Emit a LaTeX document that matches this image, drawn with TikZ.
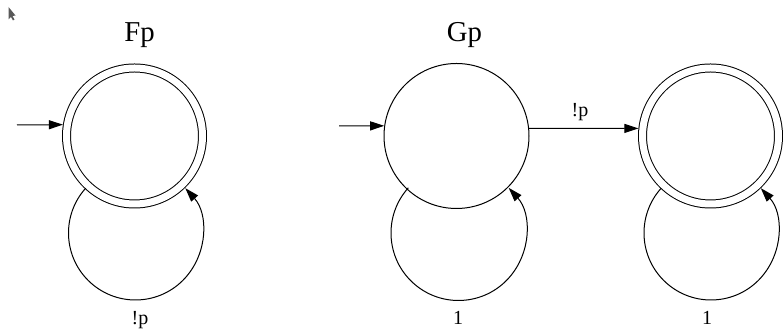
\documentclass[tikz,border=0pt]{standalone}
\usepackage{fontspec}
\setmainfont{Liberation Serif}
\usetikzlibrary{arrows.meta}
\begin{document}
\begin{tikzpicture}[
	x=0.5pt, y=0.5pt, line width=0.5pt, >={Triangle[length=7pt,width=4.5pt]},
	state/.style={ circle, draw, inner sep=0pt, minimum size=72.5pt, outer sep=0.25pt },
	statea/.style={ circle, draw, double, double distance=3.5pt, inner sep=0pt, minimum size=68pt, outer sep=2.25pt },
	title/.style={ anchor=base, inner sep=0pt, font=\fontsize{14.4}{16}\selectfont },
	lbl/.style={ anchor=base, inner sep=0pt, font=\fontsize{10}{12}\selectfont }
]
\useasboundingbox (0,0) rectangle (783,330);

\fill[black!65] (8.5,323) -- (8.5,310.5) -- (11,313) -- (13,309.5) -- (14.5,310.5) -- (12.5,314) -- (15.5,314.5) -- cycle;

\node[title] at (139.5,288) (fptitle) {Fp};
\node[title] at (464.5,288) (gptitle) {Gp};

\node[statea] at (134.5,194) (fp) {};
\node[state] at (456.5,194) (gp0) {};
\node[statea] at (710.5,194) (gp1) {};

\coordinate (fpin) at (17,205);
\coordinate (gpin) at (339,204);
\draw[->] (fpin) to (fp.171);
\draw[->] (gpin) to (gp0.172);

\draw[->] (gp0.6) to (gp1.174);
\node[lbl] at (580,213) (gplbl) {!p};

\coordinate (fploop) at (135.5,97);
\coordinate (gp0loop) at (458.5,97);
\coordinate (gp1loop) at (711,97);
\draw[->] (fploop) ++(138:33.5pt) arc[start angle=138, end angle=402, radius=33.5pt];
\draw[->] (gp0loop) ++(138:33.75pt) arc[start angle=138, end angle=402, radius=33.75pt];
\draw[->] (gp1loop) ++(138:33.5pt) arc[start angle=138, end angle=402, radius=33.5pt];

\node[lbl] at (140,5) (fplbl) {!p};
\node[lbl] at (458,5) (gp0lbl) {1};
\node[lbl] at (707,5) (gp1lbl) {1};

\end{tikzpicture}
\end{document}
